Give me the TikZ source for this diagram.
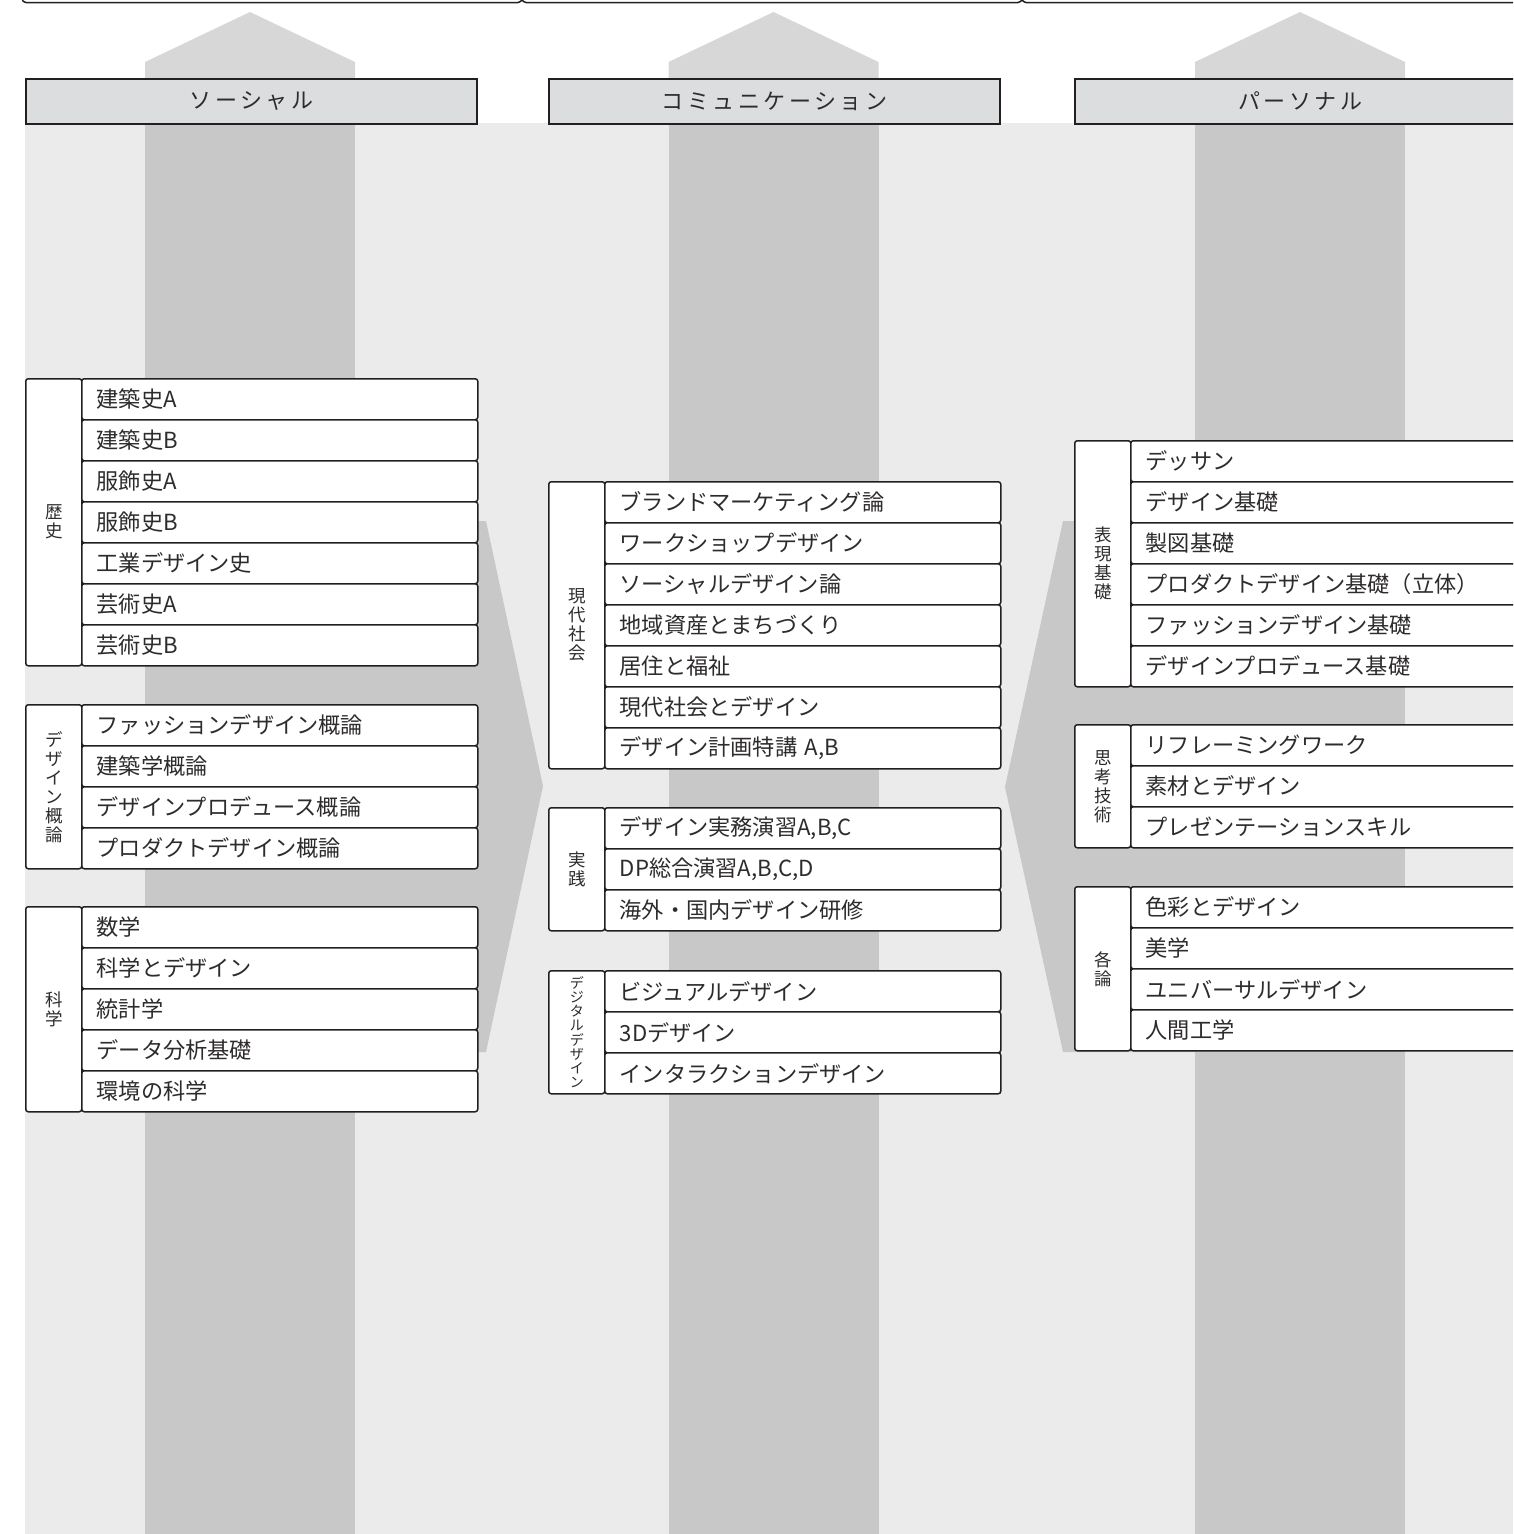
\documentclass[tikz,border=0pt]{standalone}
\usepackage{fontspec}
\setmainfont{Noto Sans CJK JP}
\definecolor{bgl}{HTML}{EBEBEB}
\definecolor{cold}{HTML}{C8C8C9}
\definecolor{coll}{HTML}{D7D7D7}
\definecolor{hdr}{HTML}{DCDDDF}
\definecolor{ink}{HTML}{231F20}
\definecolor{txt}{HTML}{2E2B2C}
\tikzset{
  rowbox/.style={rectangle, draw=ink, fill=white, rounded corners=2.5pt, line width=1.5pt,
    minimum width=396pt, minimum height=41pt, text width=366pt, inner xsep=15pt, inner ysep=0pt,
    align=left, text=txt, font=\fontsize{22.2}{24}\selectfont},
  labbox/.style={rectangle, draw=ink, fill=white, rounded corners=2.5pt, line width=1.5pt,
    minimum width=56pt, inner sep=0pt, align=center, text=txt, font=\fontsize{17.5}{19}\selectfont},
  hdrbox/.style={rectangle, draw=ink, fill=hdr, line width=1.8pt, minimum width=451pt,
    minimum height=45pt, inner sep=0pt, text=txt,
    font=\fontsize{22}{26}\selectfont\addfontfeature{LetterSpace=16}},
  topbox/.style={draw=ink, fill=white, line width=1.5pt, rounded corners=4pt}
}
\newcommand{\cgroup}[7]{%
  \node[labbox, minimum height=#4*41pt, anchor=north west, #5] (#1) at (#2,#3) {#6};
  \foreach \t [count=\i] in {#7} {
    \node[rowbox, anchor=north west] (#1-\i) at (#2+56,#3+41*\i-41) {\t};
  }%
}
\begin{document}
\begin{tikzpicture}[x=1pt,y=-1pt]
\useasboundingbox (0,0) rectangle (1513,1534);
\clip (0,0) rectangle (1513,1534);
% top truncated boxes
\draw[topbox] (22,-30) rectangle (522,2.5);
\draw[topbox] (522,-30) rectangle (1022,2.5);
\draw[topbox] (1022,-30) rectangle (1540,2.5);
% background
\fill[bgl] (25,123) rectangle (1513,1534);
% columns with arrow heads
\foreach \cx in {250,773.5,1300} {
  \fill[coll] (\cx-105,123) -- (\cx-105,62) -- (\cx,12) -- (\cx+105,62) -- (\cx+105,123) -- cycle;
  \fill[cold] (\cx-105,123) rectangle (\cx+105,1534);
}
% wedges
\fill[cold] (355,521) -- (486,521) -- (543,786) -- (486,1052) -- (355,1052) -- cycle;
\fill[cold] (1195,521) -- (1063,521) -- (1005,787) -- (1063,1052) -- (1195,1052) -- cycle;
% headers
\node[hdrbox, anchor=north west] (hsocial) at (25,78) {ソーシャル};
\node[hdrbox, anchor=north west] (hcomm) at (548,78) {コミュニケーション};
\node[hdrbox, anchor=north west] (hpers) at (1074,78) {パーソナル};
% left groups
\cgroup{rekishi}{25}{378}{7}{}{歴\\史}{建築史A,建築史B,服飾史A,服飾史B,工業デザイン史,芸術史A,芸術史B}
\cgroup{gairon}{25}{704}{4}{}{デ\\ザ\\イ\\ン\\概\\論}{ファッションデザイン概論,建築学概論,デザインプロデュース概論,プロダクトデザイン概論}
\cgroup{kagaku}{25}{906}{5}{}{科\\学}{数学,科学とデザイン,統計学,データ分析基礎,環境の科学}
% middle groups
\cgroup{gendai}{548}{481}{7}{}{現\\代\\社\\会}{ブランドマーケティング論,ワークショップデザイン,ソーシャルデザイン論,地域資産とまちづくり,居住と福祉,現代社会とデザイン,デザイン計画特講 A{,}B}
\cgroup{jissen}{548}{807}{3}{}{実\\践}{{デザイン実務演習A,B,C},{DP総合演習A,B,C,D},海外・国内デザイン研修}
\cgroup{digital}{548}{970}{3}{font=\fontsize{14}{14.2}\selectfont}{デ\\ジ\\タ\\ル\\デ\\ザ\\イ\\ン}{ビジュアルデザイン,3Dデザイン,インタラクションデザイン}
% right groups
\cgroup{hyogen}{1074}{440}{6}{}{表\\現\\基\\礎}{デッサン,デザイン基礎,製図基礎,プロダクトデザイン基礎（立体）,ファッションデザイン基礎,デザインプロデュース基礎}
\cgroup{shiko}{1074}{724}{3}{}{思\\考\\技\\術}{リフレーミングワーク,素材とデザイン,プレゼンテーションスキル}
\cgroup{kakuron}{1074}{886}{4}{}{各\\論}{色彩とデザイン,美学,ユニバーサルデザイン,人間工学}
\end{tikzpicture}
\end{document}
